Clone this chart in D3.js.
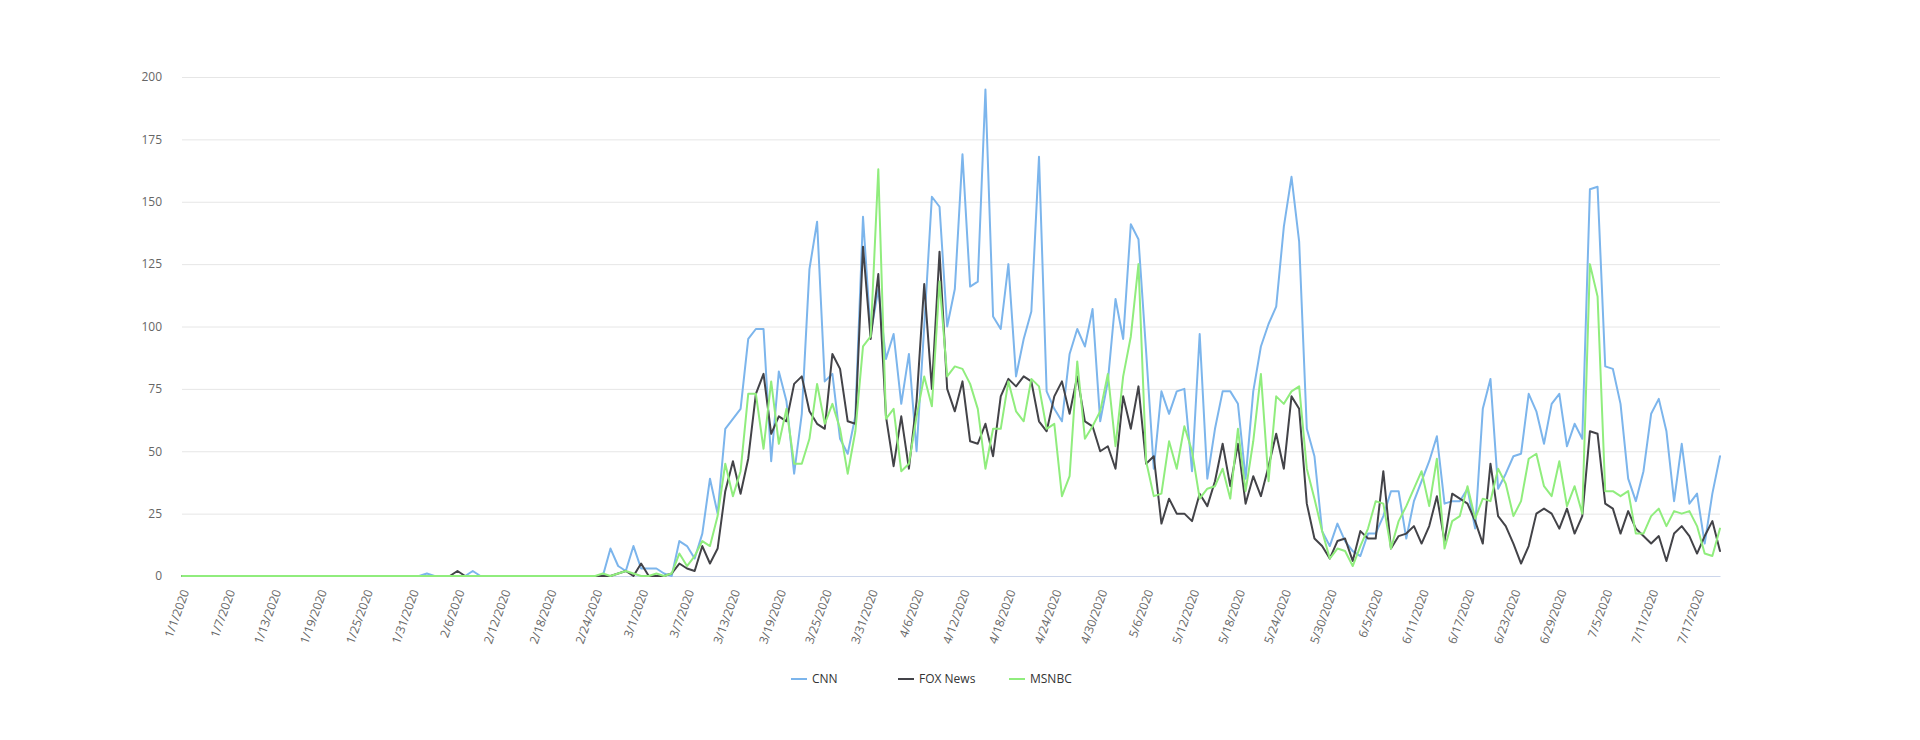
<!DOCTYPE html>
<html>
<head>
<meta charset="utf-8">
<script src="https://cdn.jsdelivr.net/npm/d3@7"></script>
<style>
  html, body { margin: 0; padding: 0; background: #fff; }
  #chart { width: 1920px; height: 740px; }
  text { font-family: "Open Sans", "DejaVu Sans", sans-serif; }
  .grid line { stroke: #e6e6e6; }
  .grid path { display: none; }
  .yaxis text { fill: #666; font-size: 12px; }
  .xaxis text { fill: #666; font-size: 12px; }
</style>
</head>
<body>
<div id="chart"></div>
<script>
// daily mentions, 1/1/2020 .. 7/20/2020
const startDay = new Date(2020, 0, 1);
const dayCount = 202;
const categories = d3.range(dayCount).map(i => {
    const d = d3.timeDay.offset(startDay, i);
    return (d.getMonth() + 1) + "/" + d.getDate() + "/" + d.getFullYear();
});

const cnn = [
    0,0,0,0,0,0,0,0,0,0, 0,0,0,0,0,0,0,0,0,0, 0,0,0,0,0,0,0,0,0,0,
    0,0,1,0,0,0,0,0,2,0, 0,0,0,0,0,0,0,0,0,0, 0,0,0,0,0,0,11,4,2,12,
    3,3,3,1,0,14,12,7,17,39, 25,59,63,67,95,99,99,46,82,70,
    41,65,123,142,78,81,55,49,64,144, 97,115,87,97,69,89,50,100,152,148,
    100,115,169,116,118,195,104,99,125,80, 95,106,168,74,67,62,89,99,92,107,
    62,78,111,95,141,135,90,43,74,65, 74,75,42,97,39,59,74,74,69,39,
    74,92,101,108,140,160,134,59,48,18, 12,21,14,10,8,17,17,24,34,34,
    15,30,38,46,56,29,30,30,35,19, 67,79,35,41,48,49,73,66,53,69,
    73,52,61,55,155,156,84,83,69,39, 30,42,65,71,58,30,53,29,33,13,
    33,48
];

const fox = [
    0,0,0,0,0,0,0,0,0,0, 0,0,0,0,0,0,0,0,0,0, 0,0,0,0,0,0,0,0,0,0,
    0,0,0,0,0,0,2,0,0,0, 0,0,0,0,0,0,0,0,0,0, 0,0,0,0,0,0,0,1,2,0,
    5,0,0,0,1,5,3,2,12,5, 11,34,46,33,47,73,81,57,64,62,
    77,80,66,61,59,89,83,62,61,132, 95,121,64,44,64,43,70,117,75,130,
    75,66,78,54,53,61,48,72,79,76, 80,78,62,58,72,78,65,80,62,60,
    50,52,43,72,59,76,45,48,21,31, 25,25,22,33,28,38,53,36,53,29,
    40,32,44,57,43,72,67,29,15,12, 7,14,15,6,18,15,15,42,11,16,
    17,20,13,20,32,14,33,31,29,22, 13,45,24,20,13,5,12,25,27,25,
    19,27,17,24,58,57,29,27,17,26, 19,16,13,16,6,17,20,16,9,16,
    22,10
];

const msnbc = [
    0,0,0,0,0,0,0,0,0,0, 0,0,0,0,0,0,0,0,0,0, 0,0,0,0,0,0,0,0,0,0,
    0,0,0,0,0,0,0,0,0,0, 0,0,0,0,0,0,0,0,0,0, 0,0,0,0,0,1,0,1,2,1,
    0,0,1,0,1,9,4,8,14,12, 24,45,32,42,73,73,51,78,53,67,
    45,45,55,77,61,69,59,41,58,92, 96,163,63,67,42,45,64,80,68,118,
    80,84,83,77,67,43,59,59,78,66, 62,79,76,59,61,32,40,86,55,60,
    66,81,52,80,96,125,46,32,33,54, 43,60,50,31,35,36,43,31,59,34,
    54,81,38,72,69,74,76,43,31,18, 7,11,10,4,12,19,30,29,11,22,
    28,35,42,28,47,11,22,24,36,23, 31,30,43,37,24,30,47,49,36,32,
    46,28,36,25,125,112,34,34,32,34, 17,17,24,27,20,26,25,26,20,9,
    8,19
];

const seriesNames = ["CNN", "FOX News", "MSNBC"];
const seriesColors = ["#7cb5ec", "#434348", "#90ed7d"];
const yTicks = [0, 25, 50, 75, 100, 125, 150, 175, 200];
const xTickEvery = 6;

const width = 1920, height = 740;
const margin = { top: 77, right: 200, bottom: 164, left: 182 };
const plotRight = 1720;
const plotBottom = height - margin.bottom;

const svg = d3.select("#chart").append("svg")
    .attr("width", width)
    .attr("height", height);

const x = d3.scalePoint()
    .domain(categories)
    .range([margin.left, plotRight]);

const y = d3.scaleLinear()
    .domain([0, 200])
    .range([plotBottom, margin.top]);

// grid + y labels
const yAxis = svg.append("g")
    .attr("class", "grid yaxis")
    .attr("transform", `translate(${margin.left},0)`)
    .call(d3.axisLeft(y).tickValues(yTicks).tickSize(-(plotRight - margin.left)).tickPadding(20));
yAxis.selectAll("line").attr("stroke", "#e6e6e6");

// x axis
const xAxis = svg.append("g")
    .attr("class", "xaxis")
    .attr("transform", `translate(0,${plotBottom})`)
    .call(d3.axisBottom(x)
        .tickValues(categories.filter((c, i) => i % xTickEvery === 0))
        .tickSize(0));
xAxis.select("path").attr("stroke", "#ccd6eb");
xAxis.selectAll("text")
    .attr("text-anchor", "end")
    .attr("dy", "0.35em")
    .attr("transform", "translate(3,14) rotate(-70)")
    .attr("x", 0)
    .attr("y", 0);

// lines
const line = d3.line()
    .x((d, i) => x(categories[i]))
    .y(d => y(d));

[cnn, fox, msnbc].forEach((vals, k) => {
    svg.append("path")
        .datum(vals)
        .attr("fill", "none")
        .attr("stroke", seriesColors[k])
        .attr("stroke-width", 2)
        .attr("stroke-linejoin", "round")
        .attr("stroke-linecap", "round")
        .attr("d", line);
});

// legend
const legendX = [791, 898, 1009];
const legend = svg.append("g").attr("transform", "translate(0,679)");
seriesNames.forEach((name, k) => {
    const g = legend.append("g").attr("transform", `translate(${legendX[k]},0)`);
    g.append("line")
        .attr("x1", 0).attr("x2", 16)
        .attr("y1", 0).attr("y2", 0)
        .attr("stroke", seriesColors[k])
        .attr("stroke-width", 2);
    g.append("text")
        .attr("x", 21)
        .attr("y", 4)
        .attr("fill", "#333")
        .style("font-size", "12px")
        .text(name);
});
</script>
</body>
</html>
